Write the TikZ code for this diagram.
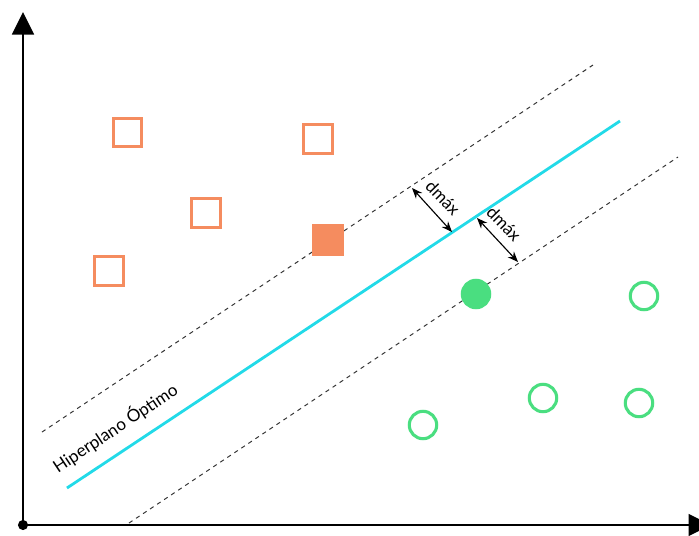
\documentclass[tikz,border=0pt]{standalone}
\usepackage{fontspec}
\setmainfont{Lato}
\usepackage{tikz}
\usetikzlibrary{arrows.meta}
\definecolor{naranja}{RGB}{245,140,95}
\definecolor{verde}{RGB}{74,222,128}
\definecolor{cian}{RGB}{34,218,232}
\tikzset{
  clase1/.style={draw=naranja, line width=2.2pt, minimum size=20.5pt, inner sep=0pt},
  clase2/.style={draw=verde, line width=2.2pt, circle, minimum size=19.5pt, inner sep=0pt},
  margen/.style={dashed, dash pattern=on 3pt off 3pt, line width=0.7pt, black!80},
  etiqueta/.style={font=\fontsize{12.2}{14}\selectfont, inner sep=0pt}
}

\begin{document}
\begin{tikzpicture}[x=0.025cm, y=-0.025cm]
     \useasboundingbox (0,0) rectangle (699,535);
     % ejes
     \coordinate (O) at (23,525);
     \coordinate (ytop) at (23,12);
     \coordinate (xend) at (711,525);
     \draw [line width=1.8pt, -{Triangle[length=16pt, width=15.5pt]}] (O) -- (ytop);
     \draw [line width=1.8pt, -{Triangle[length=16pt, width=15.5pt]}] (O) -- (xend);
     \fill (O) circle (3.6pt);
     % hiperplano y margenes
     \coordinate (h1) at (67,488);
     \coordinate (h2) at (620,121);
     \coordinate (s1) at (42,432);
     \coordinate (s2) at (593,65);
     \coordinate (i1) at (129,523);
     \coordinate (i2) at (678,157);
     \draw [margen] (s1) -- (s2);
     \draw [margen] (i1) -- (i2);
     \draw [cian, line width=2pt] (h1) -- (h2);
     % clase 1
     \node [clase1] (a1) at (127.5,132.5) {};
     \node [clase1] (a2) at (318,139) {};
     \node [clase1] (a3) at (206,213) {};
     \node [clase1] (a4) at (109,271) {};
     \node [clase1, fill=naranja] (a5) at (328,240) {};
     % clase 2
     \node [clase2] (b1) at (644,296) {};
     \node [clase2] (b2) at (543,398) {};
     \node [clase2] (b3) at (639,403) {};
     \node [clase2] (b4) at (423,425) {};
     \node [clase2, fill=verde] (b5) at (476,294) {};
     % distancias
     \coordinate (d1) at (412,188);
     \coordinate (d2) at (452,232);
     \coordinate (d3) at (477,218);
     \coordinate (d4) at (518,262);
     \draw [line width=0.8pt, {Stealth[length=7.5pt, width=6pt]}-{Stealth[length=7.5pt, width=6pt]}] (d1) -- (d2);
     \draw [line width=0.8pt, {Stealth[length=7.5pt, width=6pt]}-{Stealth[length=7.5pt, width=6pt]}] (d3) -- (d4);
     \node [etiqueta, rotate=-46] (t1) at (443,198) {dmáx};
     \node [etiqueta, rotate=-46] (t2) at (504,224) {dmáx};
     \node [etiqueta, rotate=33.6] (t3) at (115,428) {Hiperplano Óptimo};
 \end{tikzpicture}
\end{document}
